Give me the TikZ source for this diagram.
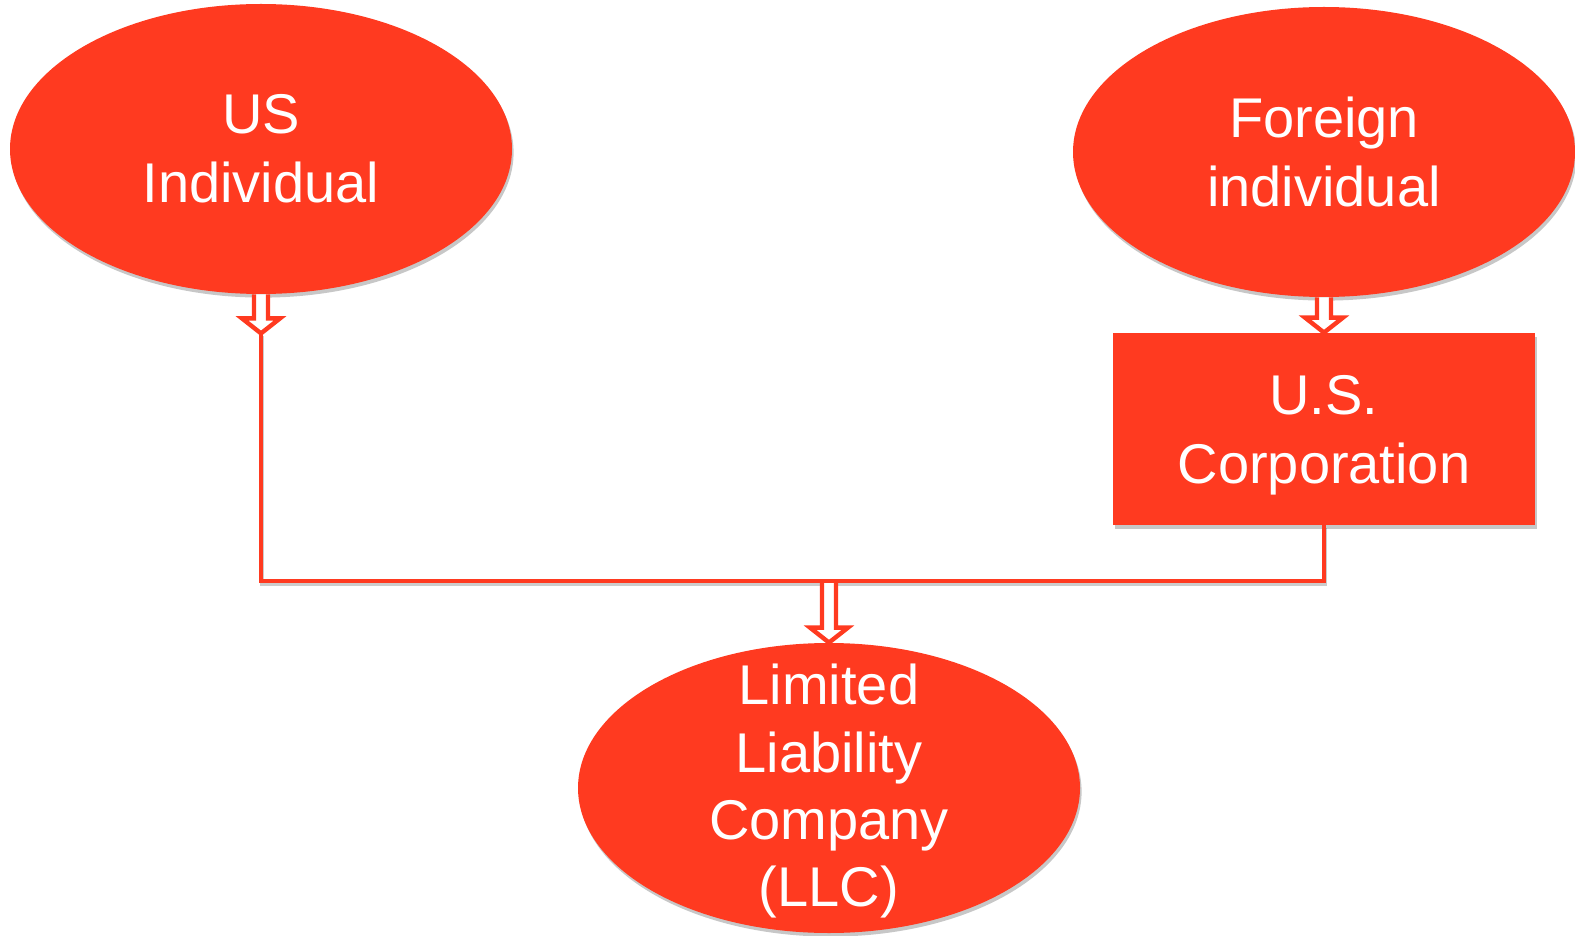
\documentclass[tikz,border=0pt]{standalone}
\usepackage{fontspec}
\setmainfont{Liberation Sans}
\usetikzlibrary{shapes.geometric,shadows,calc}
\definecolor{llcred}{RGB}{255,58,32}
\newcommand\hollowarrow[2]{%
  \draw[openarrow] let \p1=(#1), \p2=(#2) in
    (\x2-3.5pt,\y1) -- (\x2-3.5pt,\y2+7.5pt) -- (\x2-9.5pt,\y2+7.5pt) -- (\x2,\y2)
    -- (\x2+9.5pt,\y2+7.5pt) -- (\x2+3.5pt,\y2+7.5pt) -- (\x2+3.5pt,\y1);}
\begin{document}
\begin{tikzpicture}[x=0.5pt,y=-0.5pt,
  shapebase/.style={fill=llcred, draw=none, text=white, align=center,
    font=\fontsize{28}{34.5}\selectfont,
    drop shadow={shadow xshift=0.8pt, shadow yshift=-1.8pt, fill=black, opacity=0.22}},
  oval/.style={shapebase, ellipse, minimum width=251pt, minimum height=145pt, inner sep=0pt},
  boxnode/.style={shapebase, rectangle, minimum width=211pt, minimum height=96pt, inner sep=0pt},
  link/.style={draw=llcred, line width=2.2pt, line join=miter,
    preaction={draw=black, opacity=0.2, line width=2.2pt, transform canvas={shift={(0.6pt,-1.5pt)}}}},
  openarrow/.style={draw=llcred, fill=white, line width=2.2pt, line join=miter}
]
\useasboundingbox (0,0) rectangle (1575,936);
\node[oval] (us) at (261,149) {US\\Individual};
\node[oval] (foreign) at (1324,152) {Foreign\\individual};
\node[boxnode, text depth=0pt] (corp) at (1324,429) {U.S.\\Corporation};
\node[oval, inner ysep=-25pt, font=\fontsize{28}{33.6}\selectfont, text depth=2.6pt] (llc) at (829,788) {Limited\\Liability\\Company\\(LLC)};
\coordinate (hl) at (0,581);
\coordinate (ustip) at ($(us.south)+(0,39)$);
\coordinate (midtop) at ($(llc.north |- hl)+(0,2)$);
\draw[link] (ustip) -- (us.south |- hl) -- (corp.south |- hl) -- (corp.south);
\hollowarrow{us.south}{ustip}
\hollowarrow{foreign.south}{corp.north}
\hollowarrow{midtop}{llc.north}
\end{tikzpicture}
\end{document}
